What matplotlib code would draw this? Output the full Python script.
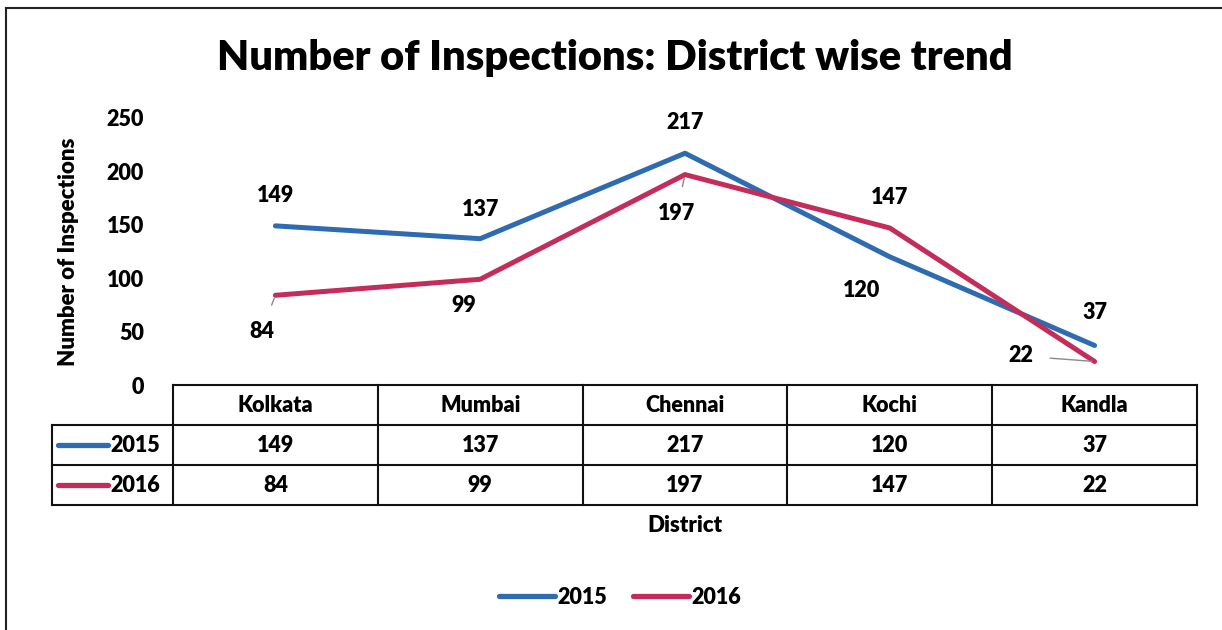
import matplotlib.pyplot as plt
from matplotlib.lines import Line2D

# data
districts = ['Kolkata', 'Mumbai', 'Chennai', 'Kochi', 'Kandla']
years = ['2015', '2016']
v2015 = [149, 137, 217, 120, 37]
v2016 = [84, 99, 197, 147, 22]
yticks = [0, 50, 100, 150, 200, 250]

blue = '#2E6BB0'
red = '#C42D5A'
plt.rcParams['font.family'] = ['Lato', 'DejaVu Sans']
plt.rcParams['font.weight'] = 'heavy'
FW = 'heavy'
FS = 15.5

W, H = 1222, 630
fig = plt.figure(figsize=(W / 100, H / 100), dpi=100)

def box(x0, y0, x1, y1):
    # pixel box (top-left origin) -> figure fraction
    return [x0 / W, 1 - y1 / H, (x1 - x0) / W, (y1 - y0) / H]

# outer frame
fig.add_artist(Line2D([6 / W, 1], [1 - 8 / H, 1 - 8 / H], color='#222222', lw=1.5))
fig.add_artist(Line2D([6 / W, 6 / W], [0, 1 - 8 / H], color='#222222', lw=1.5))

fig.text(615 / W, 1 - 58 / H, 'Number of Inspections: District wise trend',
         ha='center', va='center', fontsize=30, fontweight=FW)

ax = fig.add_axes(box(173, 118, 1197, 385))
x = list(range(len(districts)))
ax.plot(x, v2015, color=blue, lw=3.6, solid_capstyle='round', solid_joinstyle='round')
ax.plot(x, v2016, color=red, lw=3.6, solid_capstyle='round', solid_joinstyle='round')
ax.set_xlim(-0.5, len(districts) - 0.5)
ax.set_ylim(0, 250)
ax.set_yticks(yticks)
ax.set_xticks([])
ax.tick_params(axis='y', length=0, labelsize=FS, pad=21)
for s in ax.spines.values():
    s.set_visible(False)
ax.set_ylabel('Number of Inspections', fontsize=16, fontweight=FW, labelpad=20)

# data labels (offsets in points), leader lines where Excel drew them
lab15 = [(0, 22), (0, 21), (0, 22), (-20, -24), (0, 24)]
lab16 = [(-10, -26), (-12, -19), (-6, -28), (0, 22), (-53, 4)]
for i, v in enumerate(v2015):
    ax.annotate(str(v), (i, v), xytext=lab15[i], textcoords='offset points',
                ha='center', va='center', fontsize=FS, fontweight=FW)
for i, v in enumerate(v2016):
    arrow = None
    if i in (0, 2, 4):
        arrow = dict(arrowstyle='-', color='#8a8a8a', lw=1, shrinkA=10, shrinkB=2)
    ax.annotate(str(v), (i, v), xytext=lab16[i], textcoords='offset points',
                ha='center', va='center', fontsize=FS, fontweight=FW,
                arrowprops=arrow)

# data table under the axis
tx = fig.add_axes(box(52, 385, 1197, 505))
lab_w = 121 / 204.8
left = -0.5 - lab_w
tx.set_xlim(left, len(districts) - 0.5)
tx.set_ylim(3, 0)
tx.axis('off')
lk = dict(color='#111111', lw=1.5, clip_on=False)
tx.plot([-0.5, len(districts) - 0.5], [0, 0], **lk)
for r in (1, 2, 3):
    tx.plot([left, len(districts) - 0.5], [r, r], **lk)
tx.plot([left, left], [1, 3], **lk)
for c in range(len(districts) + 1):
    tx.plot([c - 0.5, c - 0.5], [0, 3], **lk)
for c, d in enumerate(districts):
    tx.text(c, 0.5, d, ha='center', va='center', fontsize=FS, fontweight=FW)
    tx.text(c, 1.5, str(v2015[c]), ha='center', va='center', fontsize=FS, fontweight=FW)
    tx.text(c, 2.5, str(v2016[c]), ha='center', va='center', fontsize=FS, fontweight=FW)
for r, (yr, col) in enumerate(zip(years, [blue, red])):
    tx.plot([left + 6 / 204.8, left + 56 / 204.8], [r + 1.5, r + 1.5], color=col,
            lw=3.8, solid_capstyle='round')
    tx.text(left + 58 / 204.8, r + 1.5, yr, ha='left', va='center', fontsize=FS,
            fontweight=FW)

fig.text(685 / W, 1 - 525 / H, 'District', ha='center', va='center',
         fontsize=16, fontweight=FW)

handles = [Line2D([], [], color=blue, lw=3.8, solid_capstyle='round'),
           Line2D([], [], color=red, lw=3.8, solid_capstyle='round')]
fig.legend(handles, years, loc='center', bbox_to_anchor=(620 / W, 1 - 597 / H),
           ncol=2, frameon=False, handlelength=2.6, handletextpad=0.1,
           columnspacing=1.2, prop={'weight': FW, 'size': FS})

fig.savefig('out.png', dpi=100)
